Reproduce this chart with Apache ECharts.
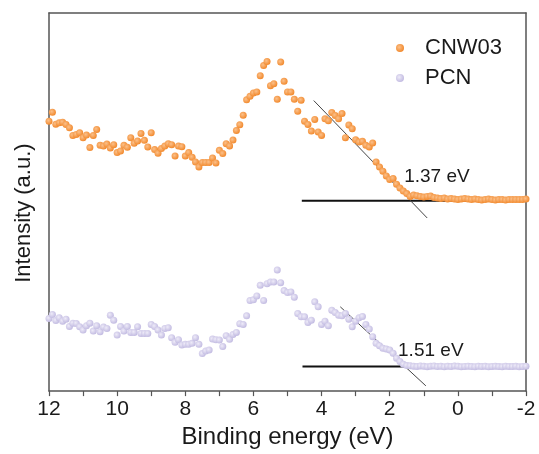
<!DOCTYPE html>
<html lang="en">
  <head>
    <meta charset="UTF-8" />
    <title>VB XPS</title>
    <script src="https://cdn.jsdelivr.net/npm/echarts@6/dist/echarts.min.js"></script>
  </head>
  <body style="margin: 0">
    <div id="chart" style="width: 539px; height: 454px"></div>
    <script>
      // binding energy grid, 12 eV down to -2 eV, 0.1 eV step
      const energies = []
      for (let i = 0; i <= 140; i++) energies.push(+(12 - i * 0.1).toFixed(1))

      // intensities (arbitrary units)
      const cnw03 = [
        271.3, 280.3, 268.3, 269.7, 270.3, 268, 264.7, 257, 258, 259.7,
        254.7, 257.3, 244.7, 257, 263, 247, 246.3, 248.3, 244.3, 247.7,
        239.7, 241.3, 247, 245, 254.7, 249, 251.3, 259, 252, 245.3,
        259.7, 242.7, 239, 243.7, 246.3, 248.7, 247.7, 236.3, 246.3, 245.7,
        236.3, 239.7, 235, 230.3, 225.3, 229.7, 229.7, 229.7, 234.3, 229.3,
        242, 238.7, 248.7, 246.3, 252.3, 262, 267.7, 277.3, 292.7, 296.3,
        299.7, 300.7, 317, 327.3, 331.3, 307, 309, 293.3, 330.7, 311.3,
        300.7, 300.7, 293.3, 281.3,
        292.3, 271.3, 268, 261.3, 273, 260.5, 257, 273.7, 271.7, 280,
        277, 273.7, 279, 254.7, 267.5, 263.7, 252.7, 250.3, 251, 247,
        245.3, 249.3, 230.3, 225.2, 221, 216.3, 212.7, 213.7, 208, 204,
        201, 198.5, 195.7, 197,
        196.3, 195.5, 195, 195.7, 196, 194.5, 194, 193.5, 194, 193,
        193.5, 193, 192.5, 193, 193.5, 193, 192.5, 193, 192.5, 192,
        192.5, 193, 192.5, 192, 192.5, 192.5, 192, 192.5, 192.5, 192.5,
        192.5, 192.5, 193,
      ]
      const pcn = [
        73, 77, 71, 73.7, 70.3, 72.3, 65, 68.3, 68, 64.7,
        61.3, 65.7, 68.3, 60.3, 65.7, 59.7, 64.3, 63, 76.3, 71.3,
        56.3, 65, 60.3, 65, 59, 59, 64.7, 58, 58, 58,
        67, 65, 61.3, 56.3, 63, 63.7, 53.7, 49, 51.7, 46.3,
        47, 47, 48, 53.7, 47, 37.7, 40.3, 41.3, 52.3, 51.7,
        51.3, 44.7, 55.7, 52, 57, 59, 67.7, 67, 75.7, 91,
        91.7, 95.7, 106.3, 91, 108, 109.7, 109.7, 121.7, 109, 101,
        99, 99.7, 94.3,
        78, 74.7, 74.7, 69, 71.3, 89.7, 84.7, 67, 70.3, 65.7,
        81.3, 79, 76.3, 75.7, 78, 72.3, 64.7, 70.3, 73.7, 75,
        67, 62.3, 54.7, 48, 45.7, 43, 42.3, 41.3, 38, 33, 29.7, 27, 25.7,
        25.5, 25, 24.7, 25.3, 25, 24.5, 25, 25.3, 24.7, 25,
        24.5, 25, 24.7, 25.2, 25, 24.5, 24.8, 25, 24.7, 24.5,
        25, 24.7, 25, 24.5, 24.8, 25, 24.7, 24.5, 25, 24.8,
        24.7, 25, 24.5, 24.8, 25,
      ]

      // band-edge fits: tangent and baseline end points [eV, intensity]
      const cnwTangent = [[4.23, 292], [0.9, 174]]
      const cnwBase = [[4.58, 191.3], [-2, 191.3]]
      const pcnTangent = [[3.45, 84.7], [0.94, 5.3]]
      const pcnBase = [[4.56, 24.7], [-2, 24.7]]
      const edgeLabels = [[1.59, 215, '1.37 eV'], [1.77, 41, '1.51 eV']]

      const font = 'Liberation Sans, Arial, sans-serif'
      const ink = '#1a1a1a'

      function ball(c1, c2) {
        return {
          type: 'radial', x: 0.4, y: 0.4, r: 0.6,
          colorStops: [{ offset: 0, color: c1 }, { offset: 1, color: c2 }],
        }
      }

      function fitLine(pts, width, color) {
        return {
          type: 'line', data: pts, symbol: 'none', silent: true,
          lineStyle: { width: width, color: color }, z: 1,
        }
      }

      const chart = echarts.init(document.getElementById('chart'))

      const axisLine = { show: true, onZero: false, lineStyle: { color: '#555', width: 1.5 } }

      chart.setOption({
        animation: false,
        grid: { left: 49, right: 13, top: 13, bottom: 61 },
        legend: {
          data: ['CNW03', 'PCN'],
          orient: 'vertical',
          left: 391,
          top: 32,
          itemWidth: 8,
          itemHeight: 8,
          itemGap: 8,
          textStyle: { fontSize: 22, color: ink, fontFamily: font, padding: [0, 0, 0, 16] },
        },
        xAxis: [
          {
            type: 'value',
            inverse: true,
            min: -2,
            max: 12,
            interval: 2,
            name: 'Binding energy (eV)',
            nameLocation: 'middle',
            nameGap: 33,
            nameTextStyle: { fontSize: 24, color: ink, fontFamily: font },
            axisLine: axisLine,
            axisTick: { show: true, inside: false, length: 5, lineStyle: { color: '#555', width: 1.2 } },
            minorTick: { show: true, splitNumber: 2, length: 5, lineStyle: { color: '#555', width: 1.2 } },
            axisLabel: { fontSize: 21, color: ink, fontFamily: font, margin: 8 },
            splitLine: { show: false },
          },
          {
            type: 'value',
            position: 'top',
            inverse: true,
            min: -2,
            max: 12,
            axisLine: axisLine,
            axisTick: { show: false },
            axisLabel: { show: false },
            splitLine: { show: false },
          },
        ],
        yAxis: [
          {
            type: 'value',
            position: 'left',
            min: 0,
            max: 380,
            name: 'Intensity (a.u.)',
            nameLocation: 'middle',
            nameGap: 14,
            nameTextStyle: { fontSize: 22, color: ink, fontFamily: font, padding: [0, 22, 0, 0] },
            axisLine: axisLine,
            axisTick: { show: false },
            axisLabel: { show: false },
            splitLine: { show: false },
          },
          {
            type: 'value',
            position: 'right',
            min: 0,
            max: 380,
            axisLine: axisLine,
            axisTick: { show: false },
            axisLabel: { show: false },
            splitLine: { show: false },
          },
        ],
        series: [
          fitLine(cnwBase, 1.8, '#111'),
          fitLine(cnwTangent, 1, '#444'),
          fitLine(pcnBase, 1.8, '#111'),
          fitLine(pcnTangent, 1, '#444'),
          {
            name: 'CNW03',
            type: 'scatter',
            symbolSize: 7,
            data: energies.map((e, i) => [e, cnw03[i]]),
            itemStyle: { color: ball('#fbc08a', '#f28a2e'), opacity: 1 },
            z: 3,
          },
          {
            name: 'PCN',
            type: 'scatter',
            symbolSize: 7,
            data: energies.map((e, i) => [e, pcn[i]]),
            itemStyle: { color: ball('#eeebf8', '#c3bce2'), opacity: 1 },
            z: 3,
          },
          {
            type: 'scatter',
            silent: true,
            symbolSize: 1,
            itemStyle: { color: 'rgba(0,0,0,0)', opacity: 1 },
            data: edgeLabels.map(d => ({ value: [d[0], d[1]], name: d[2] })),
            label: {
              show: true,
              position: 'right',
              distance: 0,
              formatter: '{b}',
              fontSize: 19,
              color: ink,
              opacity: 1,
              fontFamily: font,
            },
            z: 4,
          },
        ],
      })
    </script>
  </body>
</html>
